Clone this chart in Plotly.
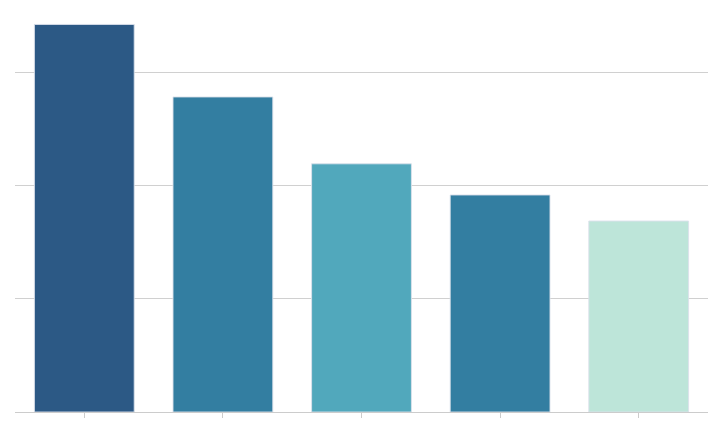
import plotly.graph_objects as go

# category names are not shown in the picture, so use placeholders
categories = ['A', 'B', 'C', 'D', 'E']
values = [3.42, 2.78, 2.19, 1.915, 1.685]
bar_colors = ['#2c5985', '#337ea1', '#51a8bc', '#337ea1', '#bde5d9']

fig = go.Figure(data=[go.Bar(
    x=categories,
    y=values,
    marker=dict(color=bar_colors, line=dict(color='rgba(220,225,235,0.9)', width=1)),
)])

# page has an 8px body margin, so margins are offset to line up
fig.update_layout(
    width=723,
    height=447,
    margin=dict(l=7, r=23, t=0, b=43),
    bargap=0.28,
    plot_bgcolor='white',
    paper_bgcolor='white',
    showlegend=False,
)
fig.update_xaxes(
    showticklabels=False,
    ticks='outside', ticklen=5, tickcolor='#cccccc',
    showline=True, linecolor='#cccccc', linewidth=1,
    showgrid=False,
)
fig.update_yaxes(
    range=[0, 3.565], dtick=1,
    showticklabels=False,
    showgrid=True, gridcolor='#d0d0d0', gridwidth=1,
    zeroline=False, showline=False,
)

fig.write_html("out.html")
